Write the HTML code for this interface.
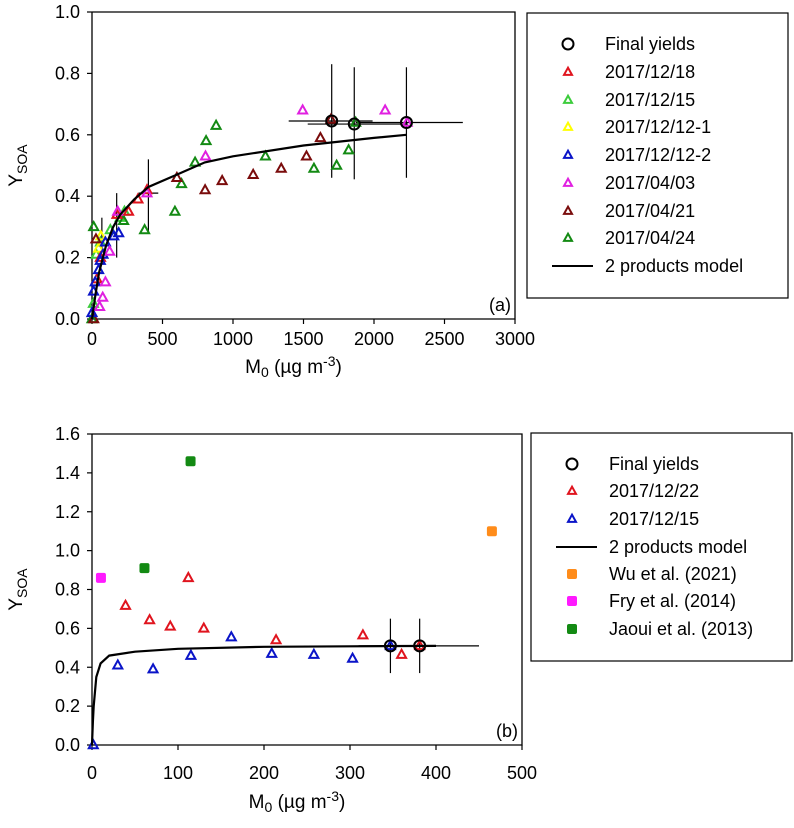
<!DOCTYPE html>
<html><head><meta charset="utf-8">
<style>
html,body{margin:0;padding:0;background:#fff;}
svg{display:block;font-family:"Liberation Sans",Arial,sans-serif;}
</style></head>
<body>
<svg id="fig" width="794" height="828" viewBox="0 0 794 828" xmlns="http://www.w3.org/2000/svg">
<g id="ga"></g>
<g id="gb"></g>
</svg>
<script>
// ---------- Chart (a) data ----------
const aXTicks = [0,500,1000,1500,2000,2500,3000];
const aYTicks = [0.0,0.2,0.4,0.6,0.8,1.0];
const aRedX = [35,60,177,259,326,390];
const aRedY = [0.13,0.20,0.34,0.35,0.39,0.42];
const aLgX = [10,30,60,130,200,230];
const aLgY = [0.05,0.21,0.25,0.29,0.33,0.35];
const aYelX = [47,63];
const aYelY = [0.23,0.27];
const aBluX = [0,11,23,47,59,78,95,154,189];
const aBluY = [0.02,0.09,0.12,0.16,0.19,0.21,0.25,0.27,0.28];
const aMagX = [54,76,95,125,182,390,805,1494,2079,2235];
const aMagY = [0.04,0.07,0.12,0.22,0.35,0.41,0.53,0.68,0.68,0.64];
const aDrX = [12,28,602,802,923,1143,1342,1521,1620,1695];
const aDrY = [0.0,0.26,0.46,0.42,0.45,0.47,0.49,0.53,0.59,0.65];
const aDgX = [0,12,224,373,588,635,731,809,880,1230,1574,1735,1820,1870];
const aDgY = [0.0,0.30,0.32,0.29,0.35,0.44,0.51,0.58,0.63,0.53,0.49,0.50,0.55,0.64];
const aFinX = [1700,1860,2230];
const aFinY = [0.645,0.635,0.64];
const aModX = [0,25,50,100,150,200,300,400,600,800,1000,1500,2000,2230];
const aModY = [0,0.08,0.15,0.24,0.30,0.34,0.39,0.43,0.47,0.51,0.53,0.565,0.59,0.60];
// error bars: x, y, ylo, yhi, xlo, xhi
const aErrX = [1700,1860,2230,400,175,70];
const aErrY = [0.645,0.635,0.64,0.41,0.30,0.27];
const aErrYlo = [0.46,0.455,0.46,0.28,0.20,0.22];
const aErrYhi = [0.83,0.82,0.82,0.52,0.41,0.33];
const aErrXlo = [1395,1530,1870,330,175,70];
const aErrXhi = [1990,2240,2630,470,175,70];
const aLegLabels = ["Final yields","2017/12/18","2017/12/15","2017/12/12-1","2017/12/12-2","2017/04/03","2017/04/21","2017/04/24","2 products model"];

// ---------- Chart (b) data ----------
const bXTicks = [0,100,200,300,400,500];
const bYTicks = [0.0,0.2,0.4,0.6,0.8,1.0,1.2,1.4,1.6];
const bRedX = [39,67,91,112,130,214,315,360,381];
const bRedY = [0.717,0.643,0.61,0.86,0.60,0.54,0.565,0.465,0.51];
const bBluX = [1.5,30,71,115,162,209,258,303,347];
const bBluY = [0,0.41,0.39,0.46,0.555,0.47,0.465,0.445,0.51];
const bFinX = [347,381];
const bFinY = [0.51,0.51];
const bModX = [0,1,2,5,10,20,50,100,200,300,400];
const bModY = [0,0.12,0.2,0.35,0.42,0.46,0.48,0.495,0.505,0.508,0.51];
const bWuX = [465], bWuY = [1.10];
const bFryX = [10.4], bFryY = [0.86];
const bJaX = [61,114.6], bJaY = [0.91,1.46];
const bErrX = [347,381];
const bErrY = [0.51,0.51];
const bErrYlo = [0.37,0.37];
const bErrYhi = [0.65,0.65];
const bErrXlo = [347,310];
const bErrXhi = [347,450];
const bLegLabels = ["Final yields","2017/12/22","2017/12/15","2 products model","Wu et al. (2021)","Fry et al. (2014)","Jaoui et al. (2013)"];

const NS = "http://www.w3.org/2000/svg";
function mk(parent, tag, attrs, text){
  const e = document.createElementNS(NS, tag);
  for (const k in attrs) e.setAttribute(k, attrs[k]);
  if (text !== undefined) e.textContent = text;
  parent.appendChild(e);
  return e;
}
function tri(g, x, y, col, s, name){
  const h = s*0.9;
  const e = mk(g,'polygon',{points:`${x},${y-h*0.6} ${x-s/2},${y+h*0.4} ${x+s/2},${y+h*0.4}`,fill:'none',stroke:col,'stroke-width':2});
  
  
  return e;
}
function circ(g,x,y,name){
  const e = mk(g,'circle',{cx:x,cy:y,r:5.5,fill:'none',stroke:'#000','stroke-width':2});
  
  
}
function sq(g,x,y,col,name){
  const e = mk(g,'rect',{x:x-5,y:y-5,width:10,height:10,rx:2,fill:col});
  
  
}

function axes(g, L, R, T, B, sx, sy, xt, yt, xdec, ydec, label, tickY, titleY){
  const box = mk(g,'path',{d:`M${L},${T} L${L},${B} L${R},${B} L${R},${T} L${L},${T}`,fill:'none',stroke:'#000','stroke-width':1.3});
  
  
  xt.forEach(v=>{
    const x = sx(v);
    mk(g,'line',{x1:x,y1:B,x2:x,y2:B+5,stroke:'#000','stroke-width':1.2});
    const t = mk(g,'text',{x:x,y:tickY,'font-size':18,'text-anchor':'middle'}, v.toFixed(xdec));
    
    
  });
  yt.forEach(v=>{
    const y = sy(v);
    mk(g,'line',{x1:L-5,y1:y,x2:L,y2:y,stroke:'#000','stroke-width':1.2});
    const t = mk(g,'text',{x:L-12,y:y+6,'font-size':18,'text-anchor':'end'}, v.toFixed(ydec));
    
    
  });
  const xt2 = mk(g,'text',{x:(L+R)/2-10,y:titleY,'font-size':19,'text-anchor':'middle'});
  
  
  xt2.innerHTML = 'M<tspan font-size="14" dy="4">0</tspan><tspan dy="-4"> (µg m</tspan><tspan font-size="14" dy="-7">-3</tspan><tspan dy="7">)</tspan>';
  const yc = (T+B)/2;
  const yt2 = mk(g,'text',{x:0,y:0,'font-size':19,'text-anchor':'middle',transform:`translate(22,${yc}) rotate(-90)`});
  
  
  yt2.innerHTML = 'Y<tspan font-size="14" dy="5">SOA</tspan>';
  const pl = mk(g,'text',{x:R-4,y:B-8,'font-size':18,'text-anchor':'end'}, label);
  
  
}
function errbars(g, sx, sy, X, Y, ylo, yhi, xlo, xhi){
  for (let i=0;i<X.length;i++){
    const e1 = mk(g,'line',{x1:sx(X[i]),y1:sy(ylo[i]),x2:sx(X[i]),y2:sy(yhi[i]),stroke:'#000','stroke-width':1.2});
    
    
    if (xhi[i]!==xlo[i]){
      const e2 = mk(g,'line',{x1:sx(xlo[i]),y1:sy(Y[i]),x2:sx(xhi[i]),y2:sy(Y[i]),stroke:'#000','stroke-width':1.2});
      
      
    }
  }
}
function modelLine(g, sx, sy, X, Y){
  const d = X.map((v,i)=>(i?'L':'M')+sx(v).toFixed(1)+','+sy(Y[i]).toFixed(1)).join(' ');
  const p = mk(g,'path',{d:d,fill:'none',stroke:'#000','stroke-width':2.2});
  
  
}
function legendBox(g, x, y, w, h, rows, labels, markerFns){
  const r = mk(g,'rect',{x:x,y:y,width:w,height:h,fill:'#fff',stroke:'#000','stroke-width':1.2});
  
  
  labels.forEach((lab,i)=>{
    const yy = rows[i];
    markerFns[i](x+41, yy);
    const t = mk(g,'text',{x:x+78,y:yy+6,'font-size':18}, lab);
    
    
  });
}

// ---------- Draw (a) ----------
(function(){
  const g = document.getElementById('ga');
  const L=92,R=515,T=12,B=319;
  const sx = v => L + v*(R-L)/3000;
  const sy = v => B - v*(B-T)/1.0;
  axes(g,L,R,T,B,sx,sy,aXTicks,aYTicks,0,1,'(a)',345,373);
  errbars(g,sx,sy,aErrX,aErrY,aErrYlo,aErrYhi,aErrXlo,aErrXhi);
  const S=9;
  aLgX.forEach((v,i)=>tri(g,sx(v),sy(aLgY[i]),'#3ccc3c',S,'point-2017-12-15'));
  aYelX.forEach((v,i)=>tri(g,sx(v),sy(aYelY[i]),'#ffff00',S,'point-2017-12-12-1'));
  aDgX.forEach((v,i)=>tri(g,sx(v),sy(aDgY[i]),'#138a13',S,'point-2017-04-24'));
  aDrX.forEach((v,i)=>tri(g,sx(v),sy(aDrY[i]),'#7a0c0c',S,'point-2017-04-21'));
  aRedX.forEach((v,i)=>tri(g,sx(v),sy(aRedY[i]),'#e0141e',S,'point-2017-12-18'));
  aBluX.forEach((v,i)=>tri(g,sx(v),sy(aBluY[i]),'#0a14c8',S,'point-2017-12-12-2'));
  aMagX.forEach((v,i)=>tri(g,sx(v),sy(aMagY[i]),'#e020e0',S,'point-2017-04-03'));
  modelLine(g,sx,sy,aModX,aModY);
  aFinX.forEach((v,i)=>circ(g,sx(v),sy(aFinY[i]),'final-yield'));
  const rows=[44,72,100,127,155,183,211,238,266];
  const cols=[null,'#e0141e','#3ccc3c','#ffff00','#0a14c8','#e020e0','#7a0c0c','#138a13'];
  const fns = rows.map((r,i)=>{
    if(i===0) return (x,y)=>circ(g,x,y,'legend-marker');
    if(i===8) return (x,y)=>{const l=mk(g,'line',{x1:x-16,y1:y,x2:x+25,y2:y,stroke:'#000','stroke-width':2});};
    return (x,y)=>tri(g,x,y,cols[i],8,'legend-marker');
  });
  legendBox(g,527,13,261,285,rows,aLegLabels,fns);
})();

// ---------- Draw (b) ----------
(function(){
  const g = document.getElementById('gb');
  const L=92,R=522,T=434,B=745;
  const sx = v => L + v*(R-L)/500;
  const sy = v => B - v*(B-T)/1.6;
  axes(g,L,R,T,B,sx,sy,bXTicks,bYTicks,0,1,'(b)',779,808);
  errbars(g,sx,sy,bErrX,bErrY,bErrYlo,bErrYhi,bErrXlo,bErrXhi);
  const S=9;
  bRedX.forEach((v,i)=>tri(g,sx(v),sy(bRedY[i]),'#e0141e',S,'point-2017-12-22'));
  bBluX.forEach((v,i)=>tri(g,sx(v),sy(bBluY[i]),'#0a14c8',S,'point-2017-12-15'));
  modelLine(g,sx,sy,bModX,bModY);
  bFinX.forEach((v,i)=>circ(g,sx(v),sy(bFinY[i]),'final-yield'));
  bWuX.forEach((v,i)=>sq(g,sx(v),sy(bWuY[i]),'#ff8c1a','point-wu-2021'));
  bFryX.forEach((v,i)=>sq(g,sx(v),sy(bFryY[i]),'#ff1aff','point-fry-2014'));
  bJaX.forEach((v,i)=>sq(g,sx(v),sy(bJaY[i]),'#138a13','point-jaoui-2013'));
  const rows=[464,491,519,547,574,601,629];
  const fns=[
    (x,y)=>circ(g,x,y,'legend-marker'),
    (x,y)=>tri(g,x,y,'#e0141e',8,'legend-marker'),
    (x,y)=>tri(g,x,y,'#0a14c8',8,'legend-marker'),
    (x,y)=>{const l=mk(g,'line',{x1:x-16,y1:y,x2:x+25,y2:y,stroke:'#000','stroke-width':2});},
    (x,y)=>sq(g,x,y,'#ff8c1a','legend-marker'),
    (x,y)=>sq(g,x,y,'#ff1aff','legend-marker'),
    (x,y)=>sq(g,x,y,'#138a13','legend-marker')
  ];
  legendBox(g,531,433,261,228,rows,bLegLabels,fns);
})();
</script>
</body></html>
